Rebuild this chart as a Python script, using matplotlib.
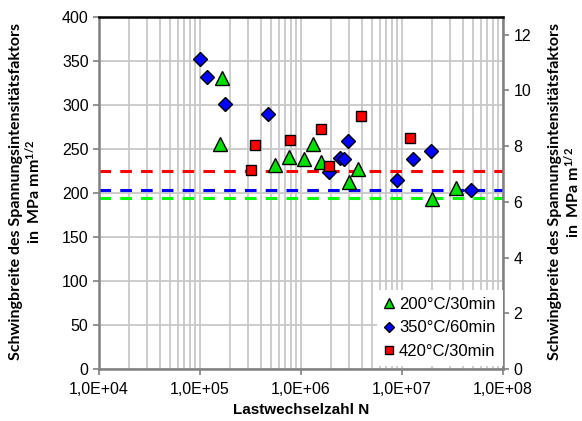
import numpy as np
import matplotlib
matplotlib.use("Agg")
import matplotlib.pyplot as plt
from matplotlib.ticker import FixedLocator, FuncFormatter, LogLocator, NullFormatter

# Data
n_200 = [1.66e5, 1.59e5, 5.5e5, 7.6e5, 1.08e6, 1.31e6, 1.57e6, 2.98e6, 3.66e6, 1.98e7, 3.45e7]
k_200 = [330, 255, 232, 241, 238, 255, 235, 212, 227, 193, 205]
n_350 = [1.0e5, 1.175e5, 1.75e5, 4.7e5, 1.9e6, 2.41e6, 2.64e6, 2.94e6, 8.85e6, 1.28e7, 1.94e7, 4.87e7]
k_350 = [352, 332, 301, 290, 224, 240, 239, 259, 215, 239, 248, 203]
n_420 = [3.18e5, 3.52e5, 7.7e5, 1.56e6, 1.9e6, 3.93e6, 1.21e7]
k_420 = [226, 254, 260, 272, 230, 287, 262]
lim_200 = 194
lim_350 = 203
lim_420 = 225
labels = ["200°C/30min", "350°C/60min", "420°C/30min"]
x_ticks = [1e4, 1e5, 1e6, 1e7, 1e8]
y_ticks = [0, 50, 100, 150, 200, 250, 300, 350, 400]
y2_ticks = [0, 2, 4, 6, 8, 10, 12]

plt.rcParams['font.family'] = ['Liberation Sans', 'DejaVu Sans']
plt.rcParams['mathtext.fontset'] = 'custom'
plt.rcParams['mathtext.rm'] = 'Lato:bold'
plt.rcParams['mathtext.default'] = 'rm'

W, H = 582, 421
fig = plt.figure(figsize=(W/100, H/100), dpi=100)
ax = fig.add_axes([99/W, 1-369/H, (503-99)/W, (369-16.7)/H])

grid_c = '#c8c8c8'
ax.set_xscale('log')
ax.set_xlim(1e4, 1e8)
ax.set_ylim(0, 400)
ax.xaxis.set_major_locator(FixedLocator(x_ticks))
ax.xaxis.set_minor_locator(LogLocator(base=10, subs=np.arange(2, 10)))
ax.xaxis.set_minor_formatter(NullFormatter())
ax.xaxis.set_major_formatter(FuncFormatter(lambda v, p: "1,0E+%02d" % int(round(np.log10(v)))))
ax.yaxis.set_major_locator(FixedLocator(y_ticks))
ax.grid(True, which='major', axis='both', color=grid_c, lw=1.3, zorder=0)
ax.grid(True, which='minor', axis='x', color=grid_c, lw=1.3, zorder=0)
ax.set_axisbelow(True)
ax.tick_params(axis='x', which='minor', length=0)
ax.tick_params(axis='both', which='major', labelsize=11.5, color='#808080', length=4, width=1.2)
ax.tick_params(axis='x', which='major', pad=5)

for s in ['left', 'bottom', 'right']:
    ax.spines[s].set_color('#808080')
    ax.spines[s].set_linewidth(1.8)
ax.spines['top'].set_color('black')
ax.spines['top'].set_linewidth(1.8)

# limit lines
dash = (0, (3.8, 3.0))
ax.axhline(lim_420, color='#ff0000', lw=2.2, ls=dash, zorder=2)
ax.axhline(lim_350, color='#0000ff', lw=2.2, ls=dash, zorder=2)
ax.axhline(lim_200, color='#00ff00', lw=2.2, ls=dash, zorder=2)

h1, = ax.plot(n_200, k_200, ls='none', marker='^', ms=9.5, mfc='#00e000', mec='black', mew=1.0, zorder=3, label=labels[0])
h2, = ax.plot(n_350, k_350, ls='none', marker='D', ms=7, mfc='#0000ff', mec='black', mew=1.0, zorder=3, label=labels[1])
h3, = ax.plot(n_420, k_420, ls='none', marker='s', ms=7, mfc='#ff0000', mec='black', mew=1.0, zorder=3, label=labels[2])

leg = ax.legend(handles=[h1, h2, h3], loc='lower right', bbox_to_anchor=(1.0, 0.008),
                fontsize=12, frameon=True, fancybox=False, edgecolor='none', facecolor='white',
                framealpha=1, handlelength=0.6, handletextpad=0.3, labelspacing=0.5,
                borderpad=0.45, borderaxespad=0.0, markerscale=0.8)

ax2 = ax.twinx()
ax2.set_ylim(0, 400/np.sqrt(1000))
ax2.yaxis.set_major_locator(FixedLocator(y2_ticks))
ax2.tick_params(axis='y', labelsize=11.5, color='#808080', length=4, width=1.2)
for s in ax2.spines.values():
    s.set_visible(False)

fig.text(26/W, 1-192/H, "Schwingbreite des Spannungsintensitätsfaktors\nin  MPa mm$^{1/2}$",
         rotation=90, ha='center', va='center', fontsize=11.5, fontfamily='Lato', fontweight='bold',
         multialignment='center', linespacing=1.0)
fig.text(565/W, 1-192/H, "Schwingbreite des Spannungsintensitätsfaktors\nin  MPa m$^{1/2}$",
         rotation=90, ha='center', va='center', fontsize=11.5, fontfamily='Lato', fontweight='bold',
         multialignment='center', linespacing=1.0)
fig.text(301/W, 1-410/H, "Lastwechselzahl N", ha='center', va='center', fontsize=11, fontweight='bold')

fig.savefig('out.png', dpi=100)
